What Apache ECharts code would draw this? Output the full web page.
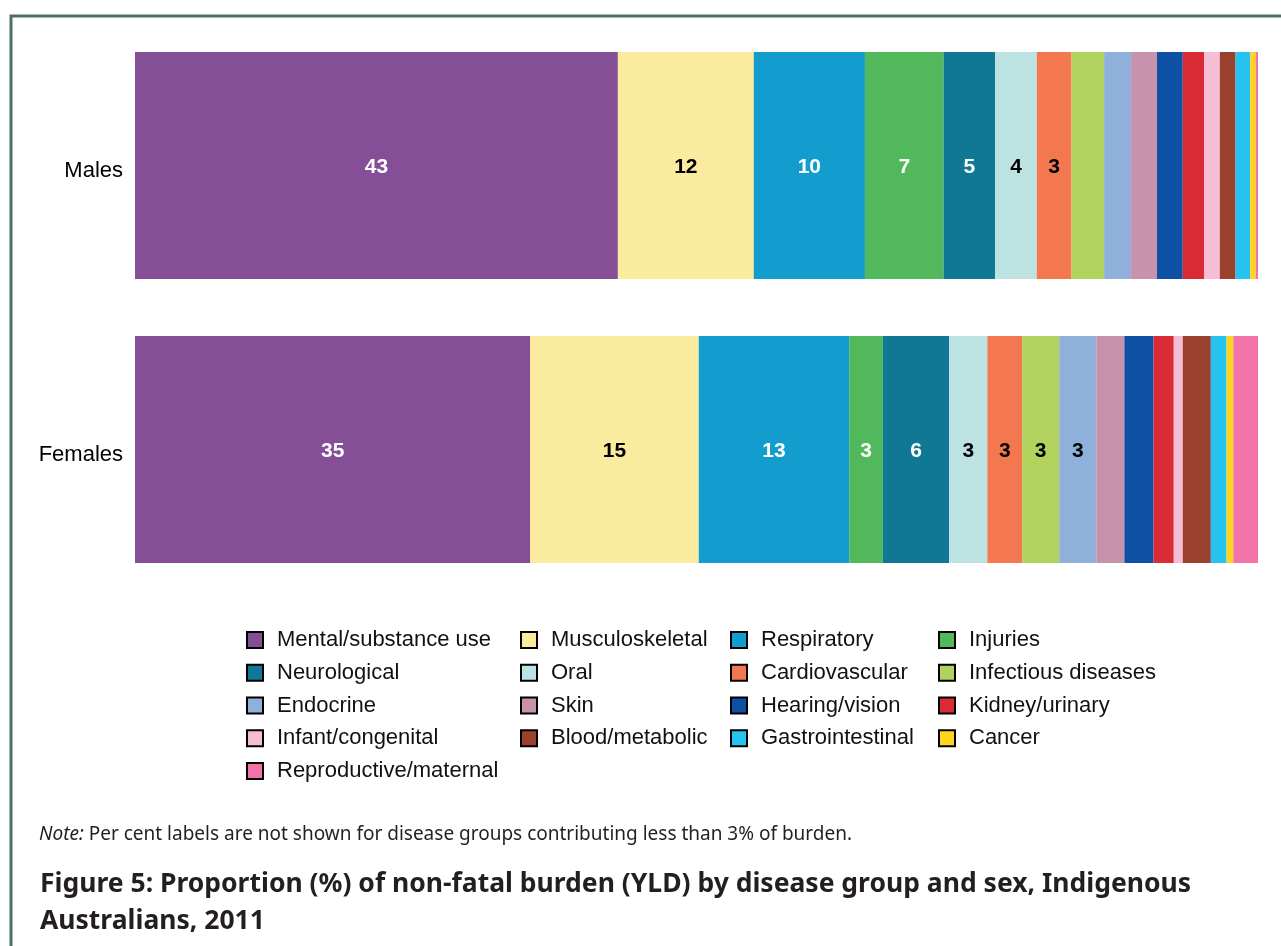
<!DOCTYPE html>
<html>
<head>
<meta charset="utf-8">
<title>Figure 5</title>
<script src="https://cdn.jsdelivr.net/npm/echarts@6/dist/echarts.min.js"></script>
<style>
  html, body { margin: 0; padding: 0; background: #fff; }
  #chart { width: 1281px; height: 946px; }
</style>
</head>
<body>
<div id="chart"></div>
<script>
// disease groups, in stacking order (left to right)
const groups = [
  'Mental/substance use', 'Musculoskeletal', 'Respiratory', 'Injuries',
  'Neurological', 'Oral', 'Cardiovascular', 'Infectious diseases',
  'Endocrine', 'Skin', 'Hearing/vision', 'Kidney/urinary',
  'Infant/congenital', 'Blood/metabolic', 'Gastrointestinal', 'Cancer',
  'Reproductive/maternal'
];
const sexes = ['Males', 'Females'];

// per cent of YLD
const males   = [43.0, 12.1, 9.9, 7.0, 4.6, 3.7, 3.1, 2.9, 2.4, 2.3, 2.3, 1.9, 1.4, 1.4, 1.3, 0.5, 0.2];
const females = [35.2, 15.0, 13.4, 3.0, 5.9, 3.4, 3.1, 3.3, 3.3, 2.5, 2.6, 1.8, 0.8, 2.5, 1.4, 0.6, 2.2];

const colors = [
  '#844f96', '#faeb9e', '#139dce', '#52b85c',
  '#107795', '#bce3e1', '#f37850', '#b1d35d',
  '#8eb0da', '#c792ab', '#0e51a4', '#d92b36',
  '#f6bdd7', '#9a412d', '#26c3f0', '#fed420',
  '#f272aa'
];

// groups whose value labels are white
const whiteLabel = ['Mental/substance use', 'Respiratory', 'Injuries', 'Neurological'];

const chart = echarts.init(document.getElementById('chart'));

const series = groups.map((name, i) => ({
  name: name,
  type: 'bar',
  stack: 'total',
  barWidth: 227,
  itemStyle: { color: colors[i] },
  emphasis: { disabled: true },
  label: {
    show: true,
    position: 'inside',
    formatter: p => (p.value >= 3 ? '{v|' + Math.round(p.value) + '}' : ''),
    rich: {
      v: {
        color: whiteLabel.includes(name) ? '#fff' : '#000',
        fontFamily: 'Liberation Sans',
        fontWeight: 'bold',
        fontSize: 21,
        padding: [4, 0, 0, 0]
      }
    }
  },
  data: [males[i], females[i]]
}));

// legend laid out in 4 columns, items taken row by row
const colLeft = [246, 520, 730, 938];
const legends = colLeft.map((x, c) => ({
  orient: 'vertical',
  left: x,
  top: 629,
  padding: 0,
  itemWidth: 16,
  itemHeight: 16,
  itemGap: 10.75,
  icon: 'rect',
  selectedMode: false,
  itemStyle: { borderColor: '#000', borderWidth: 2 },
  textStyle: {
    fontFamily: 'Liberation Sans',
    fontSize: 22,
    color: '#111',
    lineHeight: 22,
    padding: [0, 0, 0, 9]
  },
  data: groups.filter((g, i) => i % 4 === c)
}));

chart.setOption({
  animation: false,
  color: colors,
  title: [
    {
      text: '{i|Note:} Per cent labels are not shown for disease groups contributing less than 3% of burden.',
      left: 39,
      top: 822.5,
      padding: 0,
      textStyle: {
        fontFamily: 'Noto Sans',
        fontSize: 19,
        fontWeight: 'normal',
        color: '#231f20',
        lineHeight: 24,
        rich: {
          i: { fontFamily: 'Noto Sans', fontSize: 19, fontStyle: 'italic', color: '#231f20', lineHeight: 24 }
        }
      }
    },
    {
      text: 'Figure 5: Proportion (%) of non-fatal burden (YLD) by disease group and sex, Indigenous\nAustralians, 2011',
      left: 40,
      top: 865.5,
      padding: 0,
      textStyle: {
        fontFamily: 'Noto Sans',
        fontSize: 26.5,
        fontWeight: 'bold',
        color: '#231f20',
        lineHeight: 37
      }
    }
  ],
  legend: legends,
  grid: { left: 135, right: 23, top: 23.5, height: 568, containLabel: false },
  xAxis: {
    type: 'value',
    min: 0,
    max: 100,
    show: false
  },
  yAxis: {
    type: 'category',
    data: sexes,
    inverse: true,
    axisLine: { show: false },
    axisTick: { show: false },
    axisLabel: {
      margin: 12,
      formatter: '{a|{value}}',
      rich: {
        a: {
          fontFamily: 'Liberation Sans',
          fontSize: 22,
          color: '#000',
          padding: [11, 0, 0, 0]
        }
      }
    }
  },
  graphic: [
    {
      type: 'polyline',
      shape: { points: [[11, 946], [11, 16], [1281, 16]] },
      style: { stroke: '#4e6f66', lineWidth: 3, fill: null }
    }
  ],
  series: series
});
</script>
</body>
</html>
